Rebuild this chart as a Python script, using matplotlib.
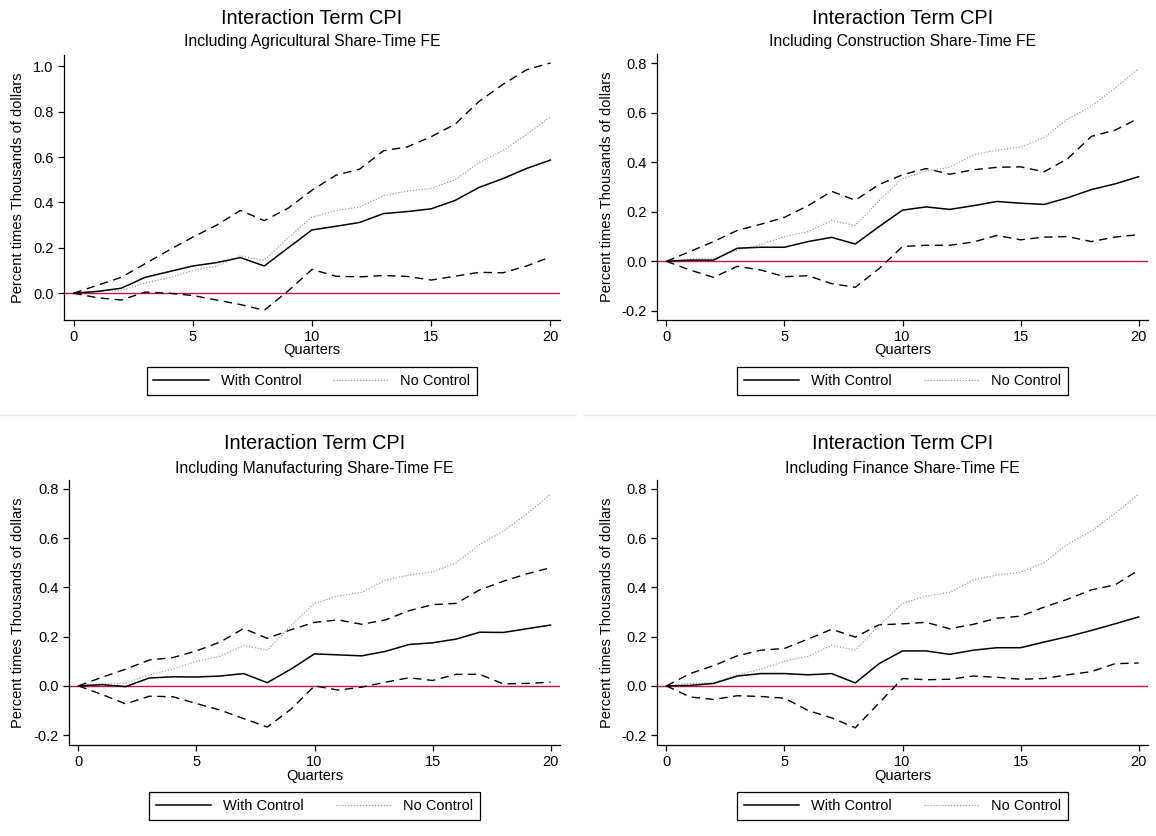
import matplotlib
matplotlib.use("Agg")
import matplotlib.pyplot as plt
from matplotlib.lines import Line2D
import numpy as np

plt.rcParams["font.family"] = ["Liberation Sans", "DejaVu Sans"]

quarters = list(range(21))

# same baseline (no control) series in every panel
no_control = [0.0, 0.01, 0.012, 0.045, 0.068, 0.10, 0.12, 0.165, 0.145, 0.245, 0.335,
              0.365, 0.38, 0.43, 0.45, 0.462, 0.50, 0.575, 0.628, 0.70, 0.778]

# Agricultural
agr_mid = [0.0, 0.008, 0.022, 0.07, 0.095, 0.12, 0.135, 0.157, 0.12, 0.20, 0.279,
           0.295, 0.312, 0.351, 0.36, 0.372, 0.409, 0.466, 0.505, 0.55, 0.587]
agr_hi = [0.0, 0.035, 0.07, 0.13, 0.19, 0.247, 0.30, 0.365, 0.32, 0.375, 0.454,
          0.52, 0.547, 0.628, 0.645, 0.69, 0.745, 0.845, 0.92, 0.985, 1.015]
agr_lo = [0.0, -0.02, -0.03, 0.005, 0.0, -0.01, -0.03, -0.05, -0.075, 0.01, 0.105,
          0.075, 0.072, 0.078, 0.074, 0.058, 0.075, 0.092, 0.09, 0.12, 0.16]

# Construction
con_mid = [0.0, 0.005, 0.005, 0.053, 0.057, 0.057, 0.08, 0.097, 0.07, 0.14, 0.207,
           0.22, 0.21, 0.225, 0.242, 0.235, 0.23, 0.257, 0.29, 0.313, 0.342]
con_hi = [0.0, 0.04, 0.08, 0.125, 0.15, 0.178, 0.225, 0.283, 0.247, 0.31, 0.35,
          0.375, 0.352, 0.37, 0.38, 0.382, 0.362, 0.415, 0.505, 0.53, 0.578]
con_lo = [0.0, -0.035, -0.065, -0.02, -0.035, -0.062, -0.058, -0.09, -0.105, -0.03, 0.06,
          0.065, 0.065, 0.078, 0.105, 0.087, 0.098, 0.10, 0.08, 0.098, 0.108]

# Manufacturing
man_mid = [0.0, 0.005, -0.003, 0.032, 0.037, 0.036, 0.04, 0.05, 0.013, 0.068, 0.13,
           0.126, 0.122, 0.14, 0.168, 0.175, 0.19, 0.218, 0.217, 0.232, 0.247]
man_hi = [0.0, 0.035, 0.068, 0.105, 0.115, 0.142, 0.178, 0.233, 0.193, 0.228, 0.258,
          0.268, 0.25, 0.268, 0.305, 0.33, 0.335, 0.39, 0.425, 0.455, 0.48]
man_lo = [0.0, -0.035, -0.073, -0.042, -0.044, -0.072, -0.098, -0.133, -0.167, -0.095, 0.0,
          -0.017, -0.005, 0.015, 0.033, 0.022, 0.047, 0.047, 0.008, 0.01, 0.015]

# Finance
fin_mid = [0.0, 0.002, 0.01, 0.04, 0.05, 0.05, 0.045, 0.05, 0.012, 0.09, 0.142,
           0.142, 0.128, 0.145, 0.155, 0.155, 0.178, 0.20, 0.225, 0.252, 0.28]
fin_hi = [0.0, 0.05, 0.082, 0.122, 0.145, 0.152, 0.19, 0.23, 0.198, 0.248, 0.252,
          0.258, 0.232, 0.25, 0.275, 0.283, 0.32, 0.352, 0.39, 0.41, 0.47]
fin_lo = [0.0, -0.045, -0.055, -0.04, -0.043, -0.05, -0.10, -0.13, -0.17, -0.07, 0.03,
          0.025, 0.027, 0.04, 0.035, 0.027, 0.03, 0.045, 0.058, 0.09, 0.093]

subtitles = ["Including Agricultural Share-Time FE", "Including Construction Share-Time FE",
             "Including Manufacturing Share-Time FE", "Including Finance Share-Time FE"]

W, H = 1156, 836
fig = plt.figure(figsize=(W / 100, H / 100), dpi=100)

# pixel boxes: left, right, top, bottom ; text baselines ; legend centre ; ylabel x
panels = [
    dict(box=(64, 560, 55, 320), ylim=(-0.118, 1.05), yt=np.arange(0, 1.01, 0.2),
         ty=24, sy=46, xl=354, lg=381, yl=18, data=(agr_mid, agr_hi, agr_lo)),
    dict(box=(657, 1148, 54, 320), ylim=(-0.237, 0.838), yt=np.arange(-0.2, 0.81, 0.2),
         ty=24, sy=46, xl=354, lg=381, yl=607, data=(con_mid, con_hi, con_lo)),
    dict(box=(69, 560, 480, 745), ylim=(-0.24, 0.836), yt=np.arange(-0.2, 0.81, 0.2),
         ty=449, sy=473, xl=780, lg=806, yl=18, data=(man_mid, man_hi, man_lo)),
    dict(box=(657, 1148, 480, 745), ylim=(-0.24, 0.836), yt=np.arange(-0.2, 0.81, 0.2),
         ty=449, sy=473, xl=780, lg=806, yl=607, data=(fin_mid, fin_hi, fin_lo)),
]

red = "#cc1447"

for p, sub in zip(panels, subtitles):
    l, r, t, b = p["box"]
    ax = fig.add_axes([l / W, 1 - b / H, (r - l) / W, (b - t) / H])
    mid, hi, lo = p["data"]
    ax.axhline(0, color=red, lw=1.0, zorder=1)
    ax.plot(quarters, hi, color="black", lw=1.0, ls=(0, (6, 4)))
    ax.plot(quarters, lo, color="black", lw=1.0, ls=(0, (6, 4)))
    ax.plot(quarters, no_control, color="#9a9a9a", lw=0.85, ls=(0, (1, 1.5)))
    ax.plot(quarters, mid, color="black", lw=1.1)
    ax.set_xlim(-0.4, 20.4)
    ax.set_ylim(*p["ylim"])
    ax.set_xticks([0, 5, 10, 15, 20])
    ax.set_yticks(p["yt"])
    ax.set_yticklabels([f"{v:.1f}" if abs(v) > 1e-9 else "0.0" for v in p["yt"]])
    for s in ["top", "right"]:
        ax.spines[s].set_visible(False)
    for s in ["left", "bottom"]:
        ax.spines[s].set_linewidth(0.9)
    ax.tick_params(direction="out", length=4.5, width=0.9, labelsize=10.5, pad=3)

    cx = (l + r) / 2 / W
    fig.text(cx, 1 - p["ty"] / H, "Interaction Term CPI", ha="center", va="baseline",
             fontsize=14.3)
    fig.text(cx, 1 - p["sy"] / H, sub, ha="center", va="baseline", fontsize=11.3)
    fig.text(cx, 1 - p["xl"] / H, "Quarters", ha="center", va="baseline", fontsize=10.5)
    fig.text(p["yl"] / W, 1 - (t + b) / 2 / H, "Percent times Thousands of dollars",
             ha="center", va="center", rotation=90, fontsize=10.5)

    handles = [Line2D([], [], color="black", lw=1.1),
               Line2D([], [], color="#9a9a9a", lw=0.85, ls=(0, (1, 1.5)))]
    leg = fig.legend(handles, ["With Control", "No Control"], loc="center",
                     bbox_to_anchor=(cx, 1 - p["lg"] / H), ncol=2, fontsize=10.5,
                     frameon=True, fancybox=False, edgecolor="black", framealpha=1,
                     handlelength=3.8, handletextpad=0.8, columnspacing=2.2,
                     borderpad=0.45, borderaxespad=0)
    leg.get_frame().set_linewidth(0.9)

# faint separators between the combined graphs
fig.add_artist(Line2D([0, 575 / W], [1 - 415 / H] * 2, color="#eeeeee", lw=1))
fig.add_artist(Line2D([583 / W, 1], [1 - 415 / H] * 2, color="#eeeeee", lw=1))

fig.savefig("out.png", dpi=100)
